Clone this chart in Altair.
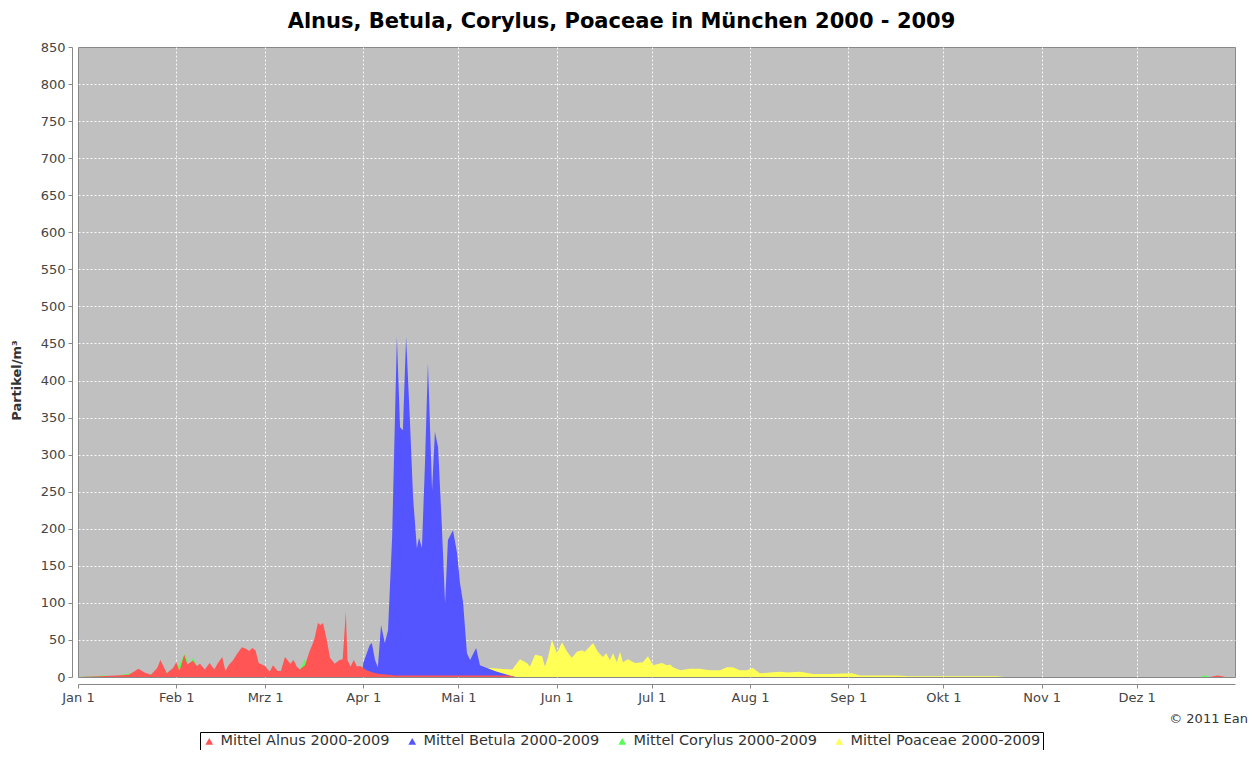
import altair as alt
import pandas as pd

# ---- axis labels ----
month_labels = ["Jan 1", "Feb 1", "Mrz 1", "Apr 1", "Mai 1", "Jun 1",
                "Jul 1", "Aug 1", "Sep 1", "Okt 1", "Nov 1", "Dez 1"]
month_days = [0, 31, 59, 90, 120, 151, 181, 212, 243, 273, 304, 334]
y_ticks = list(range(0, 851, 50))

series_names = ["Mittel Alnus 2000-2009", "Mittel Betula 2000-2009",
                "Mittel Corylus 2000-2009", "Mittel Poaceae 2000-2009"]
series_colors = ["#FF5555", "#5555FF", "#55FF55", "#FFFF55"]

# ---- data (day of year, particles/m3) ----
alnus_day = [0, 7, 12, 16, 18, 19, 21, 23, 25, 26, 28, 30, 31, 32, 33.5, 34.5, 35.5, 36.3,
             37.5, 38.5, 40, 41.5, 43, 44, 45.5, 46.5, 47.5, 49, 50, 51.7, 53, 54, 55, 56,
             57, 59, 60.5, 61.5, 63, 64, 65.3, 67, 68, 69, 70, 71.6, 73, 74.5, 75.7, 76.5,
             77.3, 78.5, 79.5, 81, 82.5, 83.5, 84.5, 85, 86, 87, 88, 89, 90, 91, 93, 95,
             98, 100, 115, 130, 136, 138, 357, 359.5, 361, 362, 364]
alnus_val = [0, 1, 2, 3, 8, 11, 6, 3, 12, 23, 5, 12, 20, 8, 30, 17, 20, 22,
             15, 18, 10, 19, 10, 18, 27, 8, 16, 23, 30, 40, 38, 35, 39, 36,
             19, 15, 7, 16, 8, 8, 27, 18, 23, 14, 10, 16, 34, 50, 73, 70,
             73, 50, 26, 18, 23, 24, 88, 23, 14, 23, 14, 15, 12, 9, 6, 4,
             3, 2, 2, 2, 2, 0, 0, 2, 1, 0, 0]

betula_day = [89.5, 90, 92, 92.7, 93.7, 94.6, 95.6, 96.8, 97.8, 99.1, 100.6, 101.6, 102.5,
              103.5, 104.7, 105.7, 106.9, 107.6, 108.5, 109.5, 110.4, 111.7, 112.6, 113.6,
              114.8, 115.8, 116.7, 118.3, 119.6, 120.5, 121.5, 122.7, 123.7, 125.6, 126.8,
              129, 132.2, 137, 138]
betula_val = [0, 19, 43, 46, 23, 13, 70, 46, 63, 189, 459, 337, 333,
              459, 347, 243, 174, 188, 174, 293, 424, 252, 331, 310,
              202, 100, 185, 198, 167, 127, 100, 32, 23, 39, 16,
              12, 7, 1, 0]

corylus_day = [0, 6, 8, 11, 14, 16.7, 18, 20, 24, 28, 31, 33.8, 35, 36.3, 38, 42, 48, 52,
               56, 60, 66, 70, 71.6, 73, 76, 80, 85, 90, 95, 100,
               354, 355.5, 357, 358.5, 359.4, 360.5]
corylus_val = [0, 1, 2, 1, 3, 5, 4, 3, 4, 6, 10, 32, 15, 26, 10, 8, 10, 12,
               10, 6, 8, 10, 24, 12, 15, 8, 6, 3, 1, 0,
               0, 2, 0, 0, 2, 0]

poaceae_day = [125, 127, 130, 133, 137, 139.4, 141.6, 142.6, 144.2, 146.4, 147.3, 148.3,
               149.5, 151.1, 152.7, 154.3, 155.8, 157.4, 159, 159.9, 162.5, 164, 165.6,
               166.6, 167.8, 168.8, 170, 171, 171.9, 173.5, 175.7, 178.2, 179.8, 181.4,
               184.2, 185.8, 186.8, 187.7, 190, 193, 196, 199.4, 202.5, 204.7, 206.6,
               208.8, 211, 212.9, 215.1, 218.3, 221.5, 223.7, 227.8, 231.9, 237.2, 244.2,
               246.7, 258.4, 262, 275, 290, 292]
poaceae_val = [0, 8, 12, 11, 10, 24, 19, 14, 30, 28, 14, 27,
               50, 32, 47, 34, 26, 34, 36, 34, 46, 34, 27,
               32, 23, 32, 20, 34, 20, 24, 19, 20, 28, 16,
               19, 16, 17, 13, 9, 11, 11, 9, 9, 13, 13,
               9, 9, 12, 5, 6, 7, 6, 7, 4, 4, 5,
               2, 2, 1, 1, 1, 0]

frames = []
for name, days, vals in [(series_names[0], alnus_day, alnus_val),
                         (series_names[1], betula_day, betula_val),
                         (series_names[2], corylus_day, corylus_val),
                         (series_names[3], poaceae_day, poaceae_val)]:
    frames.append(pd.DataFrame({"day": days, "value": vals, "series": name}))
df = pd.concat(frames, ignore_index=True)

label_expr = "''"
for d, lab in reversed(list(zip(month_days, month_labels))):
    label_expr = f"datum.value == {d} ? '{lab}' : ({label_expr})"

x_grid = {"condition": {"test": "datum.value == 0", "value": 0}, "value": 0.9}
y_grid = {"condition": {"test": "datum.value == 0 || datum.value == 850", "value": 0},
          "value": 0.9}

base = alt.Chart(df).encode(
    x=alt.X("day:Q",
            scale=alt.Scale(domain=[0, 365], nice=False, zero=False),
            axis=alt.Axis(values=month_days, labelExpr=label_expr, title=None,
                          offset=7, tickSize=4, labelPadding=3, labelFlush=False,
                          gridOpacity=x_grid)),
    y=alt.Y("value:Q", stack=None,
            scale=alt.Scale(domain=[0, 850], nice=False),
            axis=alt.Axis(values=y_ticks, title="Partikel/m³", offset=6,
                          tickSize=4, labelPadding=3, titlePadding=17, titleY=333,
                          titleFont="DejaVu Sans", titleFontSize=13,
                          titleFontWeight="bold", titleColor="#333333",
                          gridOpacity=y_grid)),
    color=alt.Color("series:N",
                    scale=alt.Scale(domain=series_names, range=series_colors),
                    legend=alt.Legend(title=None, orient="none", direction="horizontal",
                                      legendX=122, legendY=685,
                                      symbolType="triangle-up", symbolSize=60,
                                      symbolStrokeWidth=0, symbolOpacity=1,
                                      labelFont="DejaVu Sans", labelFontSize=14.5,
                                      labelColor="#333333", labelLimit=400,
                                      columnPadding=15, symbolOffset=0,
                                      padding=2, strokeColor="#000000",
                                      fillColor="#FFFFFF")),
)

draw_order = [series_names[3], series_names[2], series_names[1], series_names[0]]
layers = [base.transform_filter(alt.datum.series == s).mark_area(opacity=1, interpolate="linear")
          for s in draw_order]

credit = alt.Chart(pd.DataFrame({"t": ["© 2011 Ean"]})).mark_text(
    align="right", baseline="middle", font="DejaVu Sans", fontSize=13, color="#333333"
).encode(x=alt.value(1170), y=alt.value(672), text="t:N")

chart = alt.layer(*layers, credit).properties(
    width=1157, height=630,
    title=alt.TitleParams("Alnus, Betula, Corylus, Poaceae in München 2000 - 2009",
                          font="DejaVu Sans", fontSize=21, fontWeight="bold",
                          color="#000000", anchor="middle", dx=-35, offset=9),
    autosize=alt.AutoSizeParams(type="none"),
    padding={"left": 70, "top": 39, "right": 16, "bottom": 73},
).configure_view(
    fill="#C0C0C0", stroke="#888888", strokeWidth=1
).configure_axis(
    gridColor="#FFFFFF", gridDash=[2, 2], gridWidth=1,
    domainColor="#888888", tickColor="#888888",
    labelFont="DejaVu Sans", labelFontSize=13, labelColor="#444444"
)

chart.save("out.html", embed_options={"renderer": "svg", "actions": False})
